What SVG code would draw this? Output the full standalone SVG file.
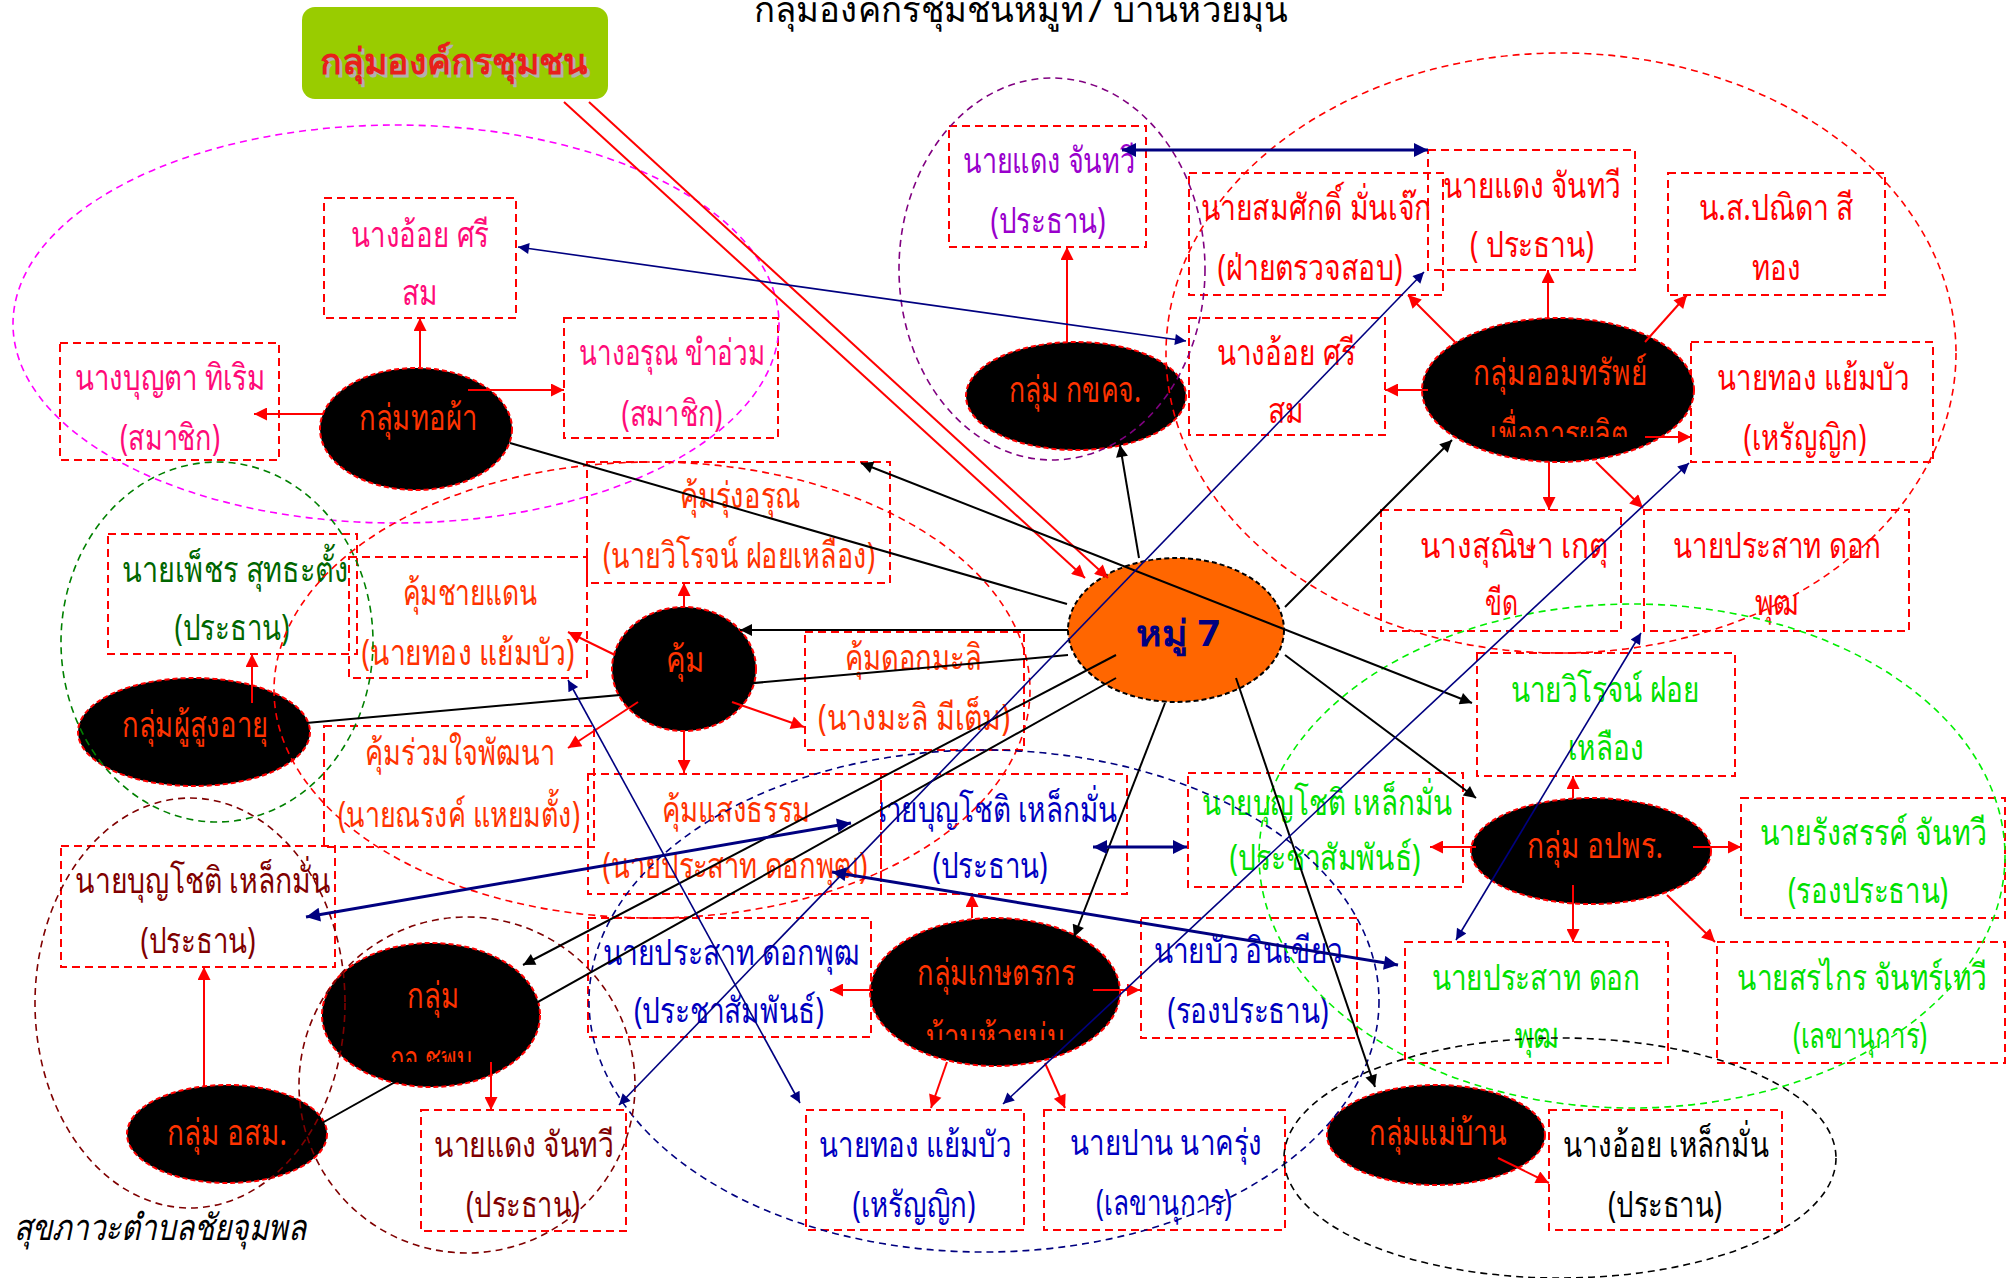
<svg xmlns="http://www.w3.org/2000/svg" width="2015" height="1278" viewBox="0 0 2015 1278">
<style>
text{font-family:"Noto Sans","DejaVu Sans",sans-serif;font-size:36px;text-anchor:middle}
.bx{fill:none;stroke:#ff0000;stroke-width:2;stroke-dasharray:8 5}
.nd{fill:#000;stroke:#ff0000;stroke-width:2;stroke-dasharray:5 3}
.cl{fill:none;stroke-width:1.6;stroke-dasharray:7 5}
.tn{fill:#ff3300}
.pk{fill:#ff0a78}
.pu{fill:#9900cc}
.rd{fill:#ff0000}
.or{fill:#ff3300}
.dg{fill:#006600}
.bl{fill:#0000c0}
.lg{fill:#00e000}
.mr{fill:#800000}
.bk{fill:#000}
.cr{stroke:#ff0000;stroke-width:2;fill:none;marker-end:url(#ar)}
.ck{stroke:#000;stroke-width:2;fill:none}
.cn{stroke:#000080;stroke-width:1.6;fill:none;marker-start:url(#an);marker-end:url(#an)}
.cnt{stroke:#000080;stroke-width:3;fill:none;marker-start:url(#ant);marker-end:url(#ant)}
</style>
<defs>
<marker id="ar" viewBox="0 0 10 10" refX="10" refY="5" markerWidth="14" markerHeight="13" markerUnits="userSpaceOnUse" orient="auto-start-reverse"><path d="M0,0L10,5L0,10z" fill="#ff0000"/></marker>
<marker id="ak" viewBox="0 0 10 10" refX="10" refY="5" markerWidth="16" markerHeight="12" markerUnits="userSpaceOnUse" orient="auto-start-reverse"><path d="M0,0L10,5L0,10z" fill="#000"/></marker>
<marker id="an" viewBox="0 0 10 10" refX="10" refY="5" markerWidth="15" markerHeight="11" markerUnits="userSpaceOnUse" orient="auto-start-reverse"><path d="M0,0L10,5L0,10z" fill="#000080"/></marker>
<marker id="ant" viewBox="0 0 10 10" refX="10" refY="5" markerWidth="16" markerHeight="14" markerUnits="userSpaceOnUse" orient="auto-start-reverse"><path d="M0,0L10,5L0,10z" fill="#000080"/></marker>
<clipPath id="cAom"><rect x="1420" y="300" width="280" height="137"/></clipPath>
<clipPath id="cKaset"><rect x="860" y="900" width="270" height="140"/></clipPath>
<clipPath id="cKhlo"><rect x="310" y="930" width="240" height="132"/></clipPath>
<clipPath id="cDaengR"><rect x="1443" y="140" width="192" height="130"/></clipPath>
<clipPath id="cBunB"><rect x="881" y="764" width="246" height="130"/></clipPath>
<clipPath id="cBunM"><rect x="61" y="836" width="274" height="131"/></clipPath>
</defs>
<rect width="2015" height="1278" fill="#fff"/>

<text x="1021" y="22" font-size="48" textLength="535" lengthAdjust="spacingAndGlyphs" fill="#000">กลุ่มองค์กรชุมชนหมู่ที่7 บ้านห้วยมุ่น</text>

<g id="header">
<rect x="302" y="7" width="306" height="92" rx="13" fill="#99cc00"/>
<text x="457" y="77" font-size="58" font-weight="bold" textLength="268" lengthAdjust="spacingAndGlyphs" fill="#b0b0b0">กลุ่มองค์กรชุมชน</text>
<text x="454" y="74" font-size="58" font-weight="bold" textLength="268" lengthAdjust="spacingAndGlyphs" fill="#e8201a">กลุ่มองค์กรชุมชน</text>
</g>

<!-- boxes -->
<g id="b-oy1"><rect class="bx" x="324" y="198" width="192" height="120"/><text class="pk" x="420" y="247" textLength="138" lengthAdjust="spacingAndGlyphs">นางอ้อย  ศรี</text><text class="pk" x="420" y="305" textLength="36" lengthAdjust="spacingAndGlyphs">สม</text></g>
<g id="b-bunta"><rect class="bx" x="60" y="343" width="219" height="117"/><text class="pk" x="170" y="390" textLength="191" lengthAdjust="spacingAndGlyphs">นางบุญตา  ทิเริม</text><text class="pk" x="170" y="450" textLength="100" lengthAdjust="spacingAndGlyphs">(สมาชิก)</text></g>
<g id="b-arun"><rect class="bx" x="564" y="318" width="214" height="120"/><text class="pk" x="672" y="365" textLength="186" lengthAdjust="spacingAndGlyphs">นางอรุณ ขำอ่วม</text><text class="pk" x="672" y="426" textLength="101" lengthAdjust="spacingAndGlyphs">(สมาชิก)</text></g>
<g id="b-daeng-p"><rect class="bx" x="949" y="126" width="197" height="121"/><text class="pu" x="1049" y="173" textLength="172" lengthAdjust="spacingAndGlyphs">นายแดง จันทวี</text><text class="pu" x="1048" y="233" textLength="115" lengthAdjust="spacingAndGlyphs">(ประธาน)</text></g>
<g id="b-daeng-r"><rect class="bx" x="1428" y="150" width="207" height="120"/><g clip-path="url(#cDaengR)"><text class="rd" x="1532" y="198" textLength="178" lengthAdjust="spacingAndGlyphs">นายแดง  จันทวี</text></g><text class="rd" x="1532" y="257" textLength="124" lengthAdjust="spacingAndGlyphs">( ประธาน)</text></g>
<g id="b-somsak"><rect class="bx" x="1189" y="173" width="254" height="122"/><text class="rd" x="1316" y="220" textLength="231" lengthAdjust="spacingAndGlyphs">นายสมศักดิ์  มั่นเจ๊ก</text><text class="rd" x="1310" y="280" textLength="185" lengthAdjust="spacingAndGlyphs">(ฝ่ายตรวจสอบ)</text></g>
<g id="b-panida"><rect class="bx" x="1668" y="173" width="217" height="122"/><text class="rd" x="1776" y="220" textLength="155" lengthAdjust="spacingAndGlyphs">น.ส.ปณิดา สี</text><text class="rd" x="1776" y="280" textLength="49" lengthAdjust="spacingAndGlyphs">ทอง</text></g>
<g id="b-oy2"><rect class="bx" x="1189" y="318" width="196" height="117"/><text class="rd" x="1286" y="365" textLength="139" lengthAdjust="spacingAndGlyphs">นางอ้อย  ศรี</text><text class="rd" x="1286" y="423" textLength="36" lengthAdjust="spacingAndGlyphs">สม</text></g>
<g id="b-thong-r"><rect class="bx" x="1691" y="342" width="242" height="120"/><text class="rd" x="1813" y="390" textLength="192" lengthAdjust="spacingAndGlyphs">นายทอง  แย้มบัว</text><text class="rd" x="1805" y="450" textLength="123" lengthAdjust="spacingAndGlyphs">(เหรัญญิก)</text></g>
<g id="b-sunisa"><rect class="bx" x="1381" y="510" width="240" height="121"/><text class="rd" x="1514" y="558" textLength="189" lengthAdjust="spacingAndGlyphs">นางสุณิษา  เกตุ</text><text class="rd" x="1501" y="615" textLength="33" lengthAdjust="spacingAndGlyphs">ขีด</text></g>
<g id="b-prasat-r"><rect class="bx" x="1644" y="510" width="265" height="121"/><text class="rd" x="1777" y="558" textLength="208" lengthAdjust="spacingAndGlyphs">นายประสาท  ดอก</text><text class="rd" x="1777" y="615" textLength="45" lengthAdjust="spacingAndGlyphs">พุฒ</text></g>
<g id="b-rungarun"><rect class="bx" x="587" y="462" width="303" height="121"/><text class="or" x="740" y="508" textLength="121" lengthAdjust="spacingAndGlyphs">คุ้มรุ่งอรุณ</text><text class="or" x="739" y="568" textLength="272" lengthAdjust="spacingAndGlyphs">(นายวิโรจน์ ฝอยเหลือง)</text></g>
<g id="b-chaidaen"><rect class="bx" x="349" y="557" width="238" height="121"/><text class="or" x="470" y="605" textLength="135" lengthAdjust="spacingAndGlyphs">คุ้มชายแดน</text><text class="or" x="468" y="665" textLength="213" lengthAdjust="spacingAndGlyphs">(นายทอง  แย้มบัว)</text></g>
<g id="b-phet"><rect class="bx" x="108" y="534" width="249" height="120"/><text class="dg" x="235" y="582" textLength="226" lengthAdjust="spacingAndGlyphs">นายเพ็ชร  สุทธะตั้ง</text><text class="dg" x="232" y="640" textLength="115" lengthAdjust="spacingAndGlyphs">(ประธาน)</text></g>
<g id="b-dokmali"><rect class="bx" x="805" y="632" width="219" height="118"/><text class="or" x="913" y="670" textLength="137" lengthAdjust="spacingAndGlyphs">คุ้มดอกมะลิ</text><text class="or" x="914" y="730" textLength="192" lengthAdjust="spacingAndGlyphs">(นางมะลิ  มีเต็ม)</text></g>
<g id="b-ruamjai"><rect class="bx" x="324" y="726" width="270" height="121"/><text class="or" x="460" y="765" textLength="190" lengthAdjust="spacingAndGlyphs">คุ้มร่วมใจพัฒนา</text><text class="or" x="459" y="827" textLength="242" lengthAdjust="spacingAndGlyphs">(นายณรงค์ แหยมตั้ง)</text></g>
<g id="b-saengtham"><rect class="bx" x="588" y="774" width="293" height="120"/><text class="or" x="736" y="822" textLength="149" lengthAdjust="spacingAndGlyphs">คุ้มแสงธรรม</text><text class="or" x="735" y="878" textLength="265" lengthAdjust="spacingAndGlyphs">(นายประสาท ดอกพุฒ)</text></g>
<g id="b-bunchot-b"><rect class="bx" x="881" y="774" width="246" height="120"/><g clip-path="url(#cBunB)"><text class="bl" x="992" y="822" textLength="251" lengthAdjust="spacingAndGlyphs">นายบุญโชติ  เหล็กมั่น</text></g><text class="bl" x="990" y="878" textLength="115" lengthAdjust="spacingAndGlyphs">(ประธาน)</text></g>
<g id="b-bunchot-g"><rect class="bx" x="1188" y="773" width="275" height="114"/><text class="lg" x="1327" y="815" textLength="251" lengthAdjust="spacingAndGlyphs">นายบุญโชติ  เหล็กมั่น</text><text class="lg" x="1325" y="870" textLength="191" lengthAdjust="spacingAndGlyphs">(ประชาสัมพันธ์)</text></g>
<g id="b-wirot"><rect class="bx" x="1477" y="653" width="258" height="123"/><text class="lg" x="1605" y="702" textLength="189" lengthAdjust="spacingAndGlyphs">นายวิโรจน์  ฝอย</text><text class="lg" x="1606" y="760" textLength="76" lengthAdjust="spacingAndGlyphs">เหลือง</text></g>
<g id="b-rangsan"><rect class="bx" x="1741" y="798" width="264" height="120"/><text class="lg" x="1873" y="845" textLength="227" lengthAdjust="spacingAndGlyphs">นายรังสรรค์  จันทวี</text><text class="lg" x="1868" y="903" textLength="160" lengthAdjust="spacingAndGlyphs">(รองประธาน)</text></g>
<g id="b-prasat-g"><rect class="bx" x="1405" y="942" width="263" height="121"/><text class="lg" x="1536" y="990" textLength="209" lengthAdjust="spacingAndGlyphs">นายประสาท  ดอก</text><text class="lg" x="1537" y="1048" textLength="45" lengthAdjust="spacingAndGlyphs">พุฒ</text></g>
<g id="b-sorakrai"><rect class="bx" x="1717" y="942" width="288" height="121"/><text class="lg" x="1862" y="990" textLength="250" lengthAdjust="spacingAndGlyphs">นายสรไกร  จันทร์เทวี</text><text class="lg" x="1860" y="1048" textLength="134" lengthAdjust="spacingAndGlyphs">(เลขานุการ)</text></g>
<g id="b-prasat-b"><rect class="bx" x="588" y="918" width="283" height="119"/><text class="bl" x="731" y="965" textLength="257" lengthAdjust="spacingAndGlyphs">นายประสาท  ดอกพุฒ</text><text class="bl" x="729" y="1023" textLength="190" lengthAdjust="spacingAndGlyphs">(ประชาสัมพันธ์)</text></g>
<g id="b-bua"><rect class="bx" x="1141" y="918" width="216" height="120"/><text class="bl" x="1248" y="963" textLength="189" lengthAdjust="spacingAndGlyphs">นายบัว  อินเขียว</text><text class="bl" x="1248" y="1023" textLength="161" lengthAdjust="spacingAndGlyphs">(รองประธาน)</text></g>
<g id="b-thong-b"><rect class="bx" x="806" y="1110" width="218" height="120"/><text class="bl" x="915" y="1157" textLength="192" lengthAdjust="spacingAndGlyphs">นายทอง  แย้มบัว</text><text class="bl" x="914" y="1217" textLength="123" lengthAdjust="spacingAndGlyphs">(เหรัญญิก)</text></g>
<g id="b-pan"><rect class="bx" x="1044" y="1110" width="241" height="120"/><text class="bl" x="1166" y="1155" textLength="192" lengthAdjust="spacingAndGlyphs">นายปาน  นาครุ่ง</text><text class="bl" x="1164" y="1215" textLength="136" lengthAdjust="spacingAndGlyphs">(เลขานุการ)</text></g>
<g id="b-bunchot-m"><rect class="bx" x="61" y="846" width="274" height="121"/><g clip-path="url(#cBunM)"><text class="mr" x="203" y="893" textLength="256" lengthAdjust="spacingAndGlyphs">นายบุญโชติ  เหล็กมั่น</text></g><text class="mr" x="198" y="953" textLength="115" lengthAdjust="spacingAndGlyphs">(ประธาน)</text></g>
<g id="b-daeng-m"><rect class="bx" x="421" y="1110" width="205" height="121"/><text class="mr" x="524" y="1157" textLength="180" lengthAdjust="spacingAndGlyphs">นายแดง  จันทวี</text><text class="mr" x="523" y="1217" textLength="114" lengthAdjust="spacingAndGlyphs">(ประธาน)</text></g>
<g id="b-oy3"><rect class="bx" x="1549" y="1110" width="233" height="120"/><text class="bk" x="1666" y="1157" textLength="206" lengthAdjust="spacingAndGlyphs">นางอ้อย  เหล็กมั่น</text><text class="bk" x="1665" y="1217" textLength="114" lengthAdjust="spacingAndGlyphs">(ประธาน)</text></g>

<!-- ellipse nodes -->
<g id="n-moo7"><ellipse cx="1176" cy="630" rx="108" ry="72" fill="#ff6600" stroke="#000" stroke-width="2" stroke-dasharray="5 3"/><text x="1178" y="646" font-size="58" font-weight="bold" fill="#000080" textLength="84" lengthAdjust="spacingAndGlyphs">หมู่ 7</text></g>
<g id="n-thopha"><ellipse class="nd" cx="416" cy="429" rx="96" ry="61"/><text class="tn" x="418" y="430" textLength="118" lengthAdjust="spacingAndGlyphs">กลุ่มทอผ้า</text></g>
<g id="n-kkkj"><ellipse class="nd" cx="1076" cy="396" rx="110" ry="54"/><text class="tn" x="1075" y="402" textLength="132" lengthAdjust="spacingAndGlyphs">กลุ่ม กขคจ.</text></g>
<g id="n-aom"><ellipse class="nd" cx="1558" cy="390" rx="136" ry="72"/><g clip-path="url(#cAom)"><text class="tn" x="1560" y="385" textLength="174" lengthAdjust="spacingAndGlyphs">กลุ่มออมทรัพย์</text><text class="tn" x="1559" y="446" textLength="138" lengthAdjust="spacingAndGlyphs">เพื่อการผลิต</text></g></g>
<g id="n-khum"><ellipse class="nd" cx="684" cy="669" rx="72" ry="62"/><text class="tn" x="685" y="672" textLength="39" lengthAdjust="spacingAndGlyphs">คุ้ม</text></g>
<g id="n-elder"><ellipse class="nd" cx="194" cy="732" rx="116" ry="54"/><text class="tn" x="195" y="737" textLength="146" lengthAdjust="spacingAndGlyphs">กลุ่มผู้สูงอายุ</text></g>
<g id="n-khlo"><ellipse class="nd" cx="431" cy="1015" rx="109" ry="72"/><g clip-path="url(#cKhlo)"><text class="tn" x="433" y="1008" textLength="52" lengthAdjust="spacingAndGlyphs">กลุ่ม</text><text class="tn" x="431" y="1071" textLength="82" lengthAdjust="spacingAndGlyphs">กอ.ชพบ</text></g></g>
<g id="n-osm"><ellipse class="nd" cx="227" cy="1134" rx="100" ry="49"/><text class="tn" x="227" y="1145" textLength="120" lengthAdjust="spacingAndGlyphs">กลุ่ม อสม.</text></g>
<g id="n-kaset"><ellipse class="nd" cx="995" cy="992" rx="125" ry="74"/><g clip-path="url(#cKaset)"><text class="tn" x="996" y="985" textLength="158" lengthAdjust="spacingAndGlyphs">กลุ่มเกษตรกร</text><text class="tn" x="996" y="1049" textLength="140" lengthAdjust="spacingAndGlyphs">บ้านห้วยมุ่น</text></g></g>
<g id="n-opw"><ellipse class="nd" cx="1591" cy="851" rx="120" ry="53"/><text class="tn" x="1595" y="858" textLength="136" lengthAdjust="spacingAndGlyphs">กลุ่ม อปพร.</text></g>
<g id="n-maeban"><ellipse class="nd" cx="1436" cy="1135" rx="109" ry="50"/><text class="tn" x="1438" y="1145" textLength="138" lengthAdjust="spacingAndGlyphs">กลุ่มแม่บ้าน</text></g>

<!-- cluster outlines -->
<g id="clusters">
<ellipse class="cl" cx="396" cy="324" rx="383" ry="199" stroke="#ff00ff"/>
<ellipse class="cl" cx="1052" cy="269" rx="153" ry="191" stroke="#800080"/>
<ellipse class="cl" cx="1561" cy="353" rx="395" ry="300" stroke="#ff0000"/>
<ellipse class="cl" cx="217" cy="642" rx="156" ry="180" stroke="#008000"/>
<ellipse class="cl" cx="652" cy="690" rx="378" ry="228" stroke="#ff0000"/>
<ellipse class="cl" cx="984" cy="1001" rx="395" ry="251" stroke="#000080" stroke-width="2"/>
<ellipse class="cl" cx="190" cy="1003" rx="155" ry="205" stroke="#800000"/>
<ellipse class="cl" cx="467" cy="1085" rx="168" ry="168" stroke="#800000"/>
<ellipse class="cl" cx="1632" cy="856" rx="373" ry="252" stroke="#00ee00"/>
<ellipse class="cl" cx="1560" cy="1158" rx="276" ry="120" stroke="#000"/>
</g>

<g id="connectors">
<path class="cr" d="M564,102L1085,578"/>
<path class="cr" d="M589,102L1108,578"/>
<path class="cr" d="M420,367V318"/>
<path class="cr" d="M324,414H254"/>
<path class="cr" d="M468,390H564"/>
<path class="cr" d="M1067,342V247"/>
<path class="cr" d="M1455,342L1408,295"/>
<path class="cr" d="M1548,318V270"/>
<path class="cr" d="M1645,342L1687,295"/>
<path class="cr" d="M1428,390H1385"/>
<path class="cr" d="M1645,437H1691"/>
<path class="cr" d="M1549,462V510"/>
<path class="cr" d="M1596,462L1643,508"/>
<path class="cr" d="M684,607V583"/>
<path class="cr" d="M615,655L568,632"/>
<path class="cr" d="M638,702L568,748"/>
<path class="cr" d="M684,731V773"/>
<path class="cr" d="M732,702L804,727"/>
<path class="cr" d="M252,703V654"/>
<path class="cr" d="M204,1086V967"/>
<path class="cr" d="M491,1062V1110"/>
<path class="cr" d="M972,918V894"/>
<path class="cr" d="M873,990H830"/>
<path class="cr" d="M1093,990H1140"/>
<path class="cr" d="M947,1062L931,1108"/>
<path class="cr" d="M1045,1063L1065,1108"/>
<path class="cr" d="M1573,798V776"/>
<path class="cr" d="M1476,847H1430"/>
<path class="cr" d="M1693,847H1741"/>
<path class="cr" d="M1573,885V942"/>
<path class="cr" d="M1667,895L1715,942"/>
<path class="cr" d="M1498,1158L1549,1183"/>

<path class="ck" d="M1139,558L1120,445" marker-end="url(#ak)"/>
<path class="ck" d="M510,443L1067,604"/>
<path class="ck" d="M861,463L1472,703" marker-start="url(#ak)" marker-end="url(#ak)"/>
<path class="ck" d="M1068,630H740" marker-end="url(#ak)"/>
<path class="ck" d="M306,723L1068,655"/>
<path class="ck" d="M1116,655L523,965" marker-end="url(#ak)"/>
<path class="ck" d="M1116,678L322,1123"/>
<path class="ck" d="M1165,703L1074,937" marker-end="url(#ak)"/>
<path class="ck" d="M1236,678L1375,1087" marker-end="url(#ak)"/>
<path class="ck" d="M1285,655L1476,798" marker-end="url(#ak)"/>
<path class="ck" d="M1285,607L1452,440" marker-end="url(#ak)"/>

<path class="cnt" d="M1122,150H1428"/>
<path class="cn" d="M518,247L1186,341" stroke-width="2.5"/>
<path class="cn" d="M1424,272L619,1105"/>
<path class="cn" d="M1689,463L1003,1104"/>
<path class="cn" d="M1641,633L1456,940"/>
<path class="cn" d="M568,680L800,1103"/>
<path class="cnt" d="M306,917L851,823"/>
<path class="cnt" d="M832,872L1398,965"/>
<path class="cnt" d="M1093,847H1187"/>
</g>

<text x="160" y="1240" font-size="38" font-style="italic" fill="#000" textLength="293" lengthAdjust="spacingAndGlyphs">สุขภาวะตำบลชัยจุมพล</text>
</svg>
